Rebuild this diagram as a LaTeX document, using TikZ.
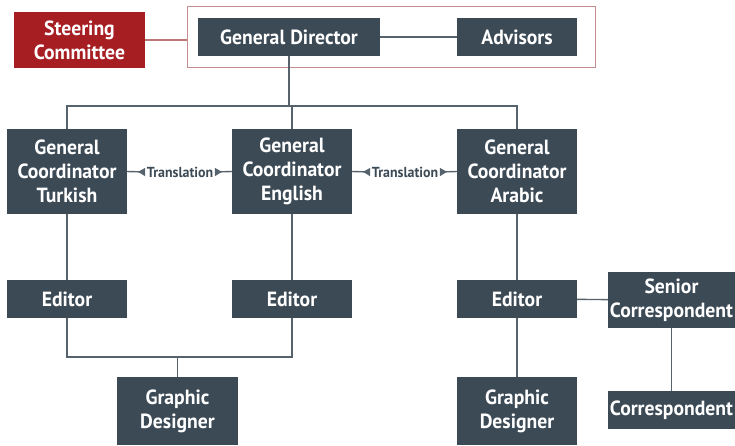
\documentclass[tikz,border=0pt]{standalone}
\usepackage{fontspec}
\setmainfont{PT Sans}[FakeStretch=0.96]
\usetikzlibrary{arrows.meta}
\definecolor{boxc}{HTML}{3C4A56}
\definecolor{linec}{HTML}{56626C}
\definecolor{redc}{HTML}{A61D22}
\definecolor{framec}{HTML}{C48E8E}
\tikzset{
  box/.style={fill=boxc, text=white, font=\bfseries\fontsize{20.5}{24}\selectfont, align=center, inner sep=0pt},
  redbox/.style={box, fill=redc},
  conn/.style={draw=linec, line width=1.4pt},
  trl/.style={font=\bfseries\fontsize{14.5}{16}\selectfont, text=boxc, inner sep=1.5pt},
  tip/.style={-{Triangle[reversed, length=7pt, width=8pt]}}
}
\begin{document}
\begin{tikzpicture}[x=1pt,y=1pt]
\useasboundingbox (0,0) rectangle (735,445);
% frame
\draw[framec, line width=1pt] (187,438) rectangle (595,377);
% nodes
\node[redbox, minimum width=131, minimum height=56] (sc) at (79.5,405) {Steering\\Committee};
\node[box, minimum width=182, minimum height=38] (gd) at (289,408) {General Director};
\node[box, minimum width=120, minimum height=38] (adv) at (517,408) {Advisors};
\node[box, minimum width=120, minimum height=85] (ct) at (67,273.5) {General\\Coordinator\\Turkish};
\node[box, minimum width=120, minimum height=85] (ce) at (292,273.5) {General\\Coordinator\\English};
\node[box, minimum width=120, minimum height=85] (ca) at (517,273.5) {General\\Coordinator\\Arabic};
\node[box, minimum width=120, minimum height=38] (et) at (67,146) {Editor};
\node[box, minimum width=120, minimum height=38] (ee) at (292,146) {Editor};
\node[box, minimum width=120, minimum height=38] (ea) at (517,146) {Editor};
\node[box, minimum width=121, minimum height=68] (g1) at (177.5,34) {Graphic\\Designer};
\node[box, minimum width=120, minimum height=68] (g2) at (517,34) {Graphic\\Designer};
\node[box, minimum width=127, minimum height=56] (sr) at (671.5,145) {Senior\\Correspondent};
\node[box, minimum width=127, minimum height=38] (co) at (671.5,35) {Correspondent};
\coordinate (frl) at (187,405);
\coordinate (j1) at (289,339);
\coordinate (j2) at (177.5,88);
% connectors
\draw[framec!80!redc, line width=1.4pt] (sc.east) -- (frl);
\draw[conn] (gd) -- (adv);
\draw[conn] (gd.south) -- (j1);
\draw[conn] (ct.north) |- (j1) -| (ca.north);
\draw[conn] (j1) -| (ce.north);
\draw[conn] (ct) -- (et);
\draw[conn] (ce) -- (ee);
\draw[conn] (ca) -- (ea);
\draw[conn] (et.south) |- (j2) -| (ee.south);
\draw[conn] (j2) -- (g1.north);
\draw[conn] (ea) -- (g2);
\draw[conn] (ea) -- (sr);
\draw[conn] (sr) -- (co);
% translation
\node[trl] (t1) at (180,273) {Translation};
\node[trl] (t2) at (405,273) {Translation};
\draw[conn, tip] (ct.east) -- (t1.west);
\draw[conn, tip] (ce.west) -- (t1.east);
\draw[conn, tip] (ce.east) -- (t2.west);
\draw[conn, tip] (ca.west) -- (t2.east);
\end{tikzpicture}
\end{document}
